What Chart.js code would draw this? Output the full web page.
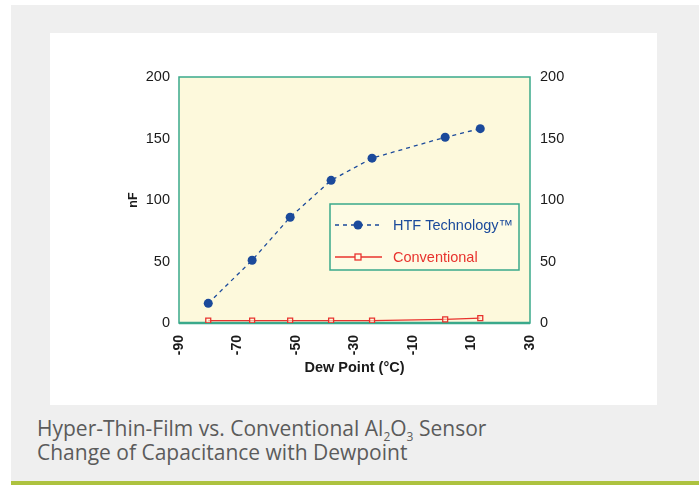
<!DOCTYPE html>
<html>
<head>
<meta charset="utf-8">
<script src="https://cdn.jsdelivr.net/npm/chart.js@4.4.0/dist/chart.umd.min.js"></script>
<style>
  body { margin: 0; background: #fff; width: 699px; height: 485px; overflow: hidden; position: relative; }
  #bg { position: absolute; left: 11px; top: 5px; width: 688px; height: 476px; background: #efefef; }
  #bar { position: absolute; left: 11px; top: 481px; width: 688px; height: 4px; background: #adc23f; }
  #panel { position: absolute; left: 50px; top: 33px; width: 607px; height: 372px; background: #fff; }
  #caption { position: absolute; left: 37px; top: 416px; font-family: "Open Sans", sans-serif; font-size: 21px;
             line-height: 24px; color: #5b5b5b; }
  #caption sub { font-size: 12px; vertical-align: -5px; line-height: 0; }
</style>
</head>
<body>
<div id="bg"></div>
<div id="bar"></div>
<div id="panel"><canvas id="grafica" width="607" height="372"></canvas></div>
<div id="caption">Hyper-Thin-Film vs. Conventional Al<sub>2</sub>O<sub>3</sub> Sensor<br>Change of Capacitance with Dewpoint</div>
<script>
// valores
var dewPoint = [-80, -65, -52, -38, -24, 1, 13];
var htf = [16, 51, 86, 116, 134, 151, 158];
var conventional = [2, 2, 2, 2, 2, 3, 4];
var xTicks = [-90, -70, -50, -30, -10, 10, 30];
var yTicks = [0, 50, 100, 150, 200];

var verde = '#3aa98b';
var azul = '#1b4a9b';
var rojo = '#e8332e';

function puntos(ys) {
  var out = [];
  for (var i in dewPoint) {
    out.push({x: dewPoint[i], y: ys[i]});
  }
  return out;
}

function fijarTicks(lista) {
  return function(s) { s.ticks = lista.map(function(v) { return {value: v}; }); };
}

// fondo amarillo y marco del area
var fondo = {
  id: 'fondo',
  beforeDatasetsDraw: function(chart) {
    var a = chart.chartArea, ctx = chart.ctx;
    ctx.save();
    ctx.fillStyle = '#fdf9dc';
    ctx.fillRect(a.left, a.top, a.right - a.left, a.bottom - a.top);
    ctx.strokeStyle = verde;
    ctx.lineWidth = 1.5;
    ctx.strokeRect(a.left, a.top, a.right - a.left, a.bottom - a.top);
    ctx.lineWidth = 2.5;
    ctx.beginPath();
    ctx.moveTo(a.left, a.bottom);
    ctx.lineTo(a.right, a.bottom);
    ctx.stroke();
    ctx.restore();
  }
};

// leyenda dentro del area
var leyenda = {
  id: 'leyenda',
  afterDatasetsDraw: function(chart) {
    var ctx = chart.ctx;
    var x0 = 280, y0 = 171, w = 189, h = 66;
    ctx.save();
    ctx.fillStyle = '#fefbe4';
    ctx.fillRect(x0, y0, w, h);
    ctx.strokeStyle = verde;
    ctx.lineWidth = 1.5;
    ctx.strokeRect(x0, y0, w, h);
    var filas = [y0 + 21, y0 + 53];
    chart.data.datasets.forEach(function(ds, i) {
      var y = filas[i];
      ctx.strokeStyle = ds.borderColor;
      ctx.lineWidth = 1.3;
      ctx.setLineDash(ds.borderDash || []);
      ctx.beginPath();
      ctx.moveTo(x0 + 5, y);
      ctx.lineTo(x0 + 52, y);
      ctx.stroke();
      ctx.setLineDash([]);
      var mx = x0 + 28;
      if (ds.pointStyle === 'rect') {
        ctx.fillStyle = '#fefbe4';
        ctx.fillRect(mx - 3, y - 3, 6, 6);
        ctx.lineWidth = 1.3;
        ctx.strokeRect(mx - 3, y - 3, 6, 6);
      } else {
        ctx.fillStyle = ds.backgroundColor;
        ctx.beginPath();
        ctx.arc(mx, y, 4.5, 0, Math.PI * 2);
        ctx.fill();
      }
      ctx.fillStyle = ds.borderColor;
      ctx.font = '14.5px "Liberation Sans", Arial, sans-serif';
      ctx.textBaseline = 'middle';
      ctx.fillText(ds.label, x0 + 63, y + 1);
    });
    ctx.restore();
  }
};

var ctx = document.getElementById('grafica');

var grafica = new Chart(ctx, {
  type: 'scatter',
  data: {
    datasets: [
      {
        label: 'HTF Technology\u2122',
        data: puntos(htf),
        showLine: true,
        borderColor: azul,
        backgroundColor: azul,
        borderWidth: 1.3,
        borderDash: [4, 4],
        pointStyle: 'circle',
        pointRadius: 4.5,
        pointBorderWidth: 0
      },
      {
        label: 'Conventional',
        data: puntos(conventional),
        showLine: true,
        borderColor: rojo,
        backgroundColor: 'rgba(253,249,220,0.6)',
        borderWidth: 1.3,
        pointStyle: 'rect',
        pointRadius: 3.5,
        pointBorderWidth: 1.3
      }
    ]
  },
  options: {
    responsive: false,
    animation: false,
    layout: { padding: { left: 76, right: 87, top: 44, bottom: 24 } },
    plugins: { legend: { display: false }, tooltip: { enabled: false } },
    scales: {
      x: {
        type: 'linear',
        min: -90, max: 30,
        afterBuildTicks: fijarTicks(xTicks),
        afterFit: function(s) { s.height = 58; },
        grid: { display: false, drawTicks: false },
        border: { display: false },
        ticks: {
          autoSkip: false, maxRotation: 90, minRotation: 90, padding: 12,
          color: '#1a1a1a', font: { family: '"Liberation Sans", Arial', size: 14, weight: 'bold' }
        },
        title: {
          display: true, text: 'Dew Point (\u00b0C)', color: '#1a1a1a',
          font: { family: '"Liberation Sans", Arial', size: 14.5, weight: 'bold' },
          padding: { top: 4, bottom: 4 }
        }
      },
      y: {
        position: 'left',
        min: 0, max: 200,
        afterBuildTicks: fijarTicks(yTicks),
        afterFit: function(s) { s.width = 53; },
        grid: { display: false, drawTicks: false },
        border: { display: false },
        ticks: { padding: 9, color: '#1a1a1a', font: { family: '"Liberation Sans", Arial', size: 14.5 } },
        title: {
          display: true, text: 'nF', color: '#1a1a1a',
          font: { family: '"Liberation Sans", Arial', size: 12.5, weight: 'bold' },
          padding: { top: 0, bottom: 2 }
        }
      },
      y2: {
        position: 'right',
        min: 0, max: 200,
        afterBuildTicks: fijarTicks(yTicks),
        afterFit: function(s) { s.width = 40; },
        grid: { display: false, drawTicks: false },
        border: { display: false },
        ticks: { padding: 10, color: '#1a1a1a', font: { family: '"Liberation Sans", Arial', size: 14.5 } }
      }
    }
  },
  plugins: [fondo, leyenda]
});
</script>
</body>
</html>
